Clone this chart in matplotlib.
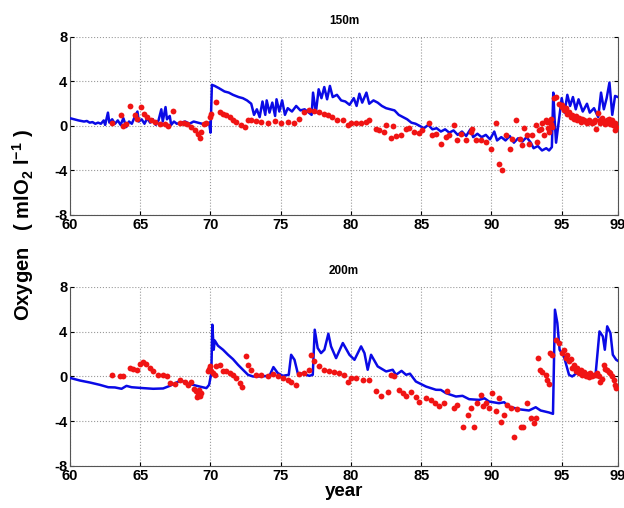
import matplotlib
matplotlib.use("Agg")
import matplotlib.pyplot as plt

plt.rcParams['font.family'] = ['Liberation Sans', 'DejaVu Sans']
plt.rcParams['font.weight'] = 'bold'
plt.rcParams['mathtext.fontset'] = 'custom'
plt.rcParams['mathtext.rm'] = 'Liberation Sans:bold'
plt.rcParams['mathtext.bf'] = 'Liberation Sans:bold'
plt.rcParams['mathtext.it'] = 'Liberation Sans:bold'
plt.rcParams['mathtext.default'] = 'bf'

# ---------------- 150 m : model (blue line) ----------------
model150_year = [60.0, 60.3, 60.6, 61.0, 61.2, 61.4, 61.6, 61.8, 62.0, 62.2, 62.4, 62.5, 62.7, 62.8, 63.0, 63.2,
                 63.4, 63.6, 63.8, 64.0, 64.2, 64.4, 64.6, 64.8, 64.9, 65.1, 65.3, 65.5, 65.7, 65.9,
                 66.1, 66.3, 66.5, 66.6, 66.8, 66.9, 67.1, 67.2, 67.4, 67.6, 67.9, 68.2, 68.5, 68.8,
                 69.1, 69.4, 69.7, 69.9, 70.0, 70.1, 70.3, 70.6, 71.0, 71.3, 71.6, 72.0, 72.3, 72.6,
                 72.9, 73.1, 73.3, 73.5, 73.7, 73.9, 74.0, 74.2, 74.4, 74.6, 74.7, 74.9, 75.1, 75.3,
                 75.5, 75.8, 76.1, 76.4, 76.7, 77.0, 77.2, 77.3, 77.5, 77.7, 77.9, 78.1, 78.3, 78.5,
                 78.7, 79.0, 79.3, 79.6, 79.9, 80.2, 80.4, 80.6, 80.8, 81.1, 81.3, 81.6, 81.9, 82.2,
                 82.5, 82.8, 83.1, 83.4, 83.7, 84.0, 84.3, 84.6, 84.9, 85.2, 85.5, 85.8, 86.1, 86.4,
                 86.7, 87.0, 87.3, 87.6, 87.9, 88.2, 88.5, 88.7, 89.0, 89.3, 89.6, 89.9, 90.2, 90.4,
                 90.7, 91.0, 91.3, 91.6, 91.9, 92.2, 92.5, 92.8, 93.0, 93.3, 93.6, 93.9, 94.1, 94.3,
                 94.4, 94.5, 94.6, 94.8, 95.0, 95.2, 95.4, 95.6, 95.8, 96.0, 96.2, 96.5, 96.8, 97.0,
                 97.3, 97.6, 97.8, 98.0, 98.2, 98.4, 98.6, 98.8, 99.0]
model150_val = [0.7, 0.6, 0.5, 0.4, 0.45, 0.3, 0.35, 0.2, 0.3, 0.2, 0.5, 0.1, 1.2, 0.3, 0.6, 0.2,
                0.5, 0.1, 0.7, -0.1, 0.4, 0.2, 0.8, 1.3, 0.4, 0.6, 0.2, 0.7, 0.3, 0.6,
                0.1, 0.5, 1.5, 0.4, 1.7, 0.6, 0.9, 0.1, 0.4, 0.2, 0.3, 0.4, 0.2, 0.4,
                0.3, 0.2, 0.1, 0.3, -0.6, 3.7, 3.6, 3.4, 3.1, 3.0, 2.8, 2.6, 2.5, 2.3,
                2.0, 1.0, 1.5, 0.8, 2.2, 1.0, 2.3, 1.2, 2.1, 0.9, 2.4, 1.3, 2.3, 1.0,
                1.6, 1.3, 1.8, 1.4, 1.5, 1.2, 1.0, 3.0, 1.2, 3.3, 2.5, 3.5, 2.4, 3.6,
                2.6, 2.8, 2.3, 2.2, 1.9, 2.5, 1.8, 2.9, 2.1, 3.0, 2.0, 2.3, 2.1, 1.8,
                1.6, 1.5, 1.4, 1.0, 0.8, 0.6, 0.3, 0.2, 0.0, -0.2, 0.1, -0.3, -0.2, -0.5,
                -0.3, -0.6, -0.4, -0.8, -0.5, -0.9, -0.3, -1.0, -0.7, -1.0, -0.8, -1.2, -0.5, -1.3,
                -1.0, -1.3, -0.9, -1.5, -1.1, -1.4, -1.0, -1.5, -2.0, -1.8, -2.2, -2.0, -2.2, -1.9,
                3.0, 0.5, -1.5, 0.5, 2.5, 1.2, 2.8, 1.8, 2.6, 1.5, 2.4, 1.3, 2.0, 1.2,
                1.6, 0.8, 3.0, 1.5, 2.5, 3.9, 1.0, 2.7, 2.6]

# ---------------- 150 m : observations (red dots) ----------------
obs150_year = [62.96, 63.62, 63.79, 64.02, 64.26, 64.62, 64.78, 65.04, 65.26, 65.49, 65.73, 66.08,
               66.39, 66.75, 66.98, 67.34, 67.81, 68.10, 68.33, 68.64, 68.88, 69.11, 69.23, 69.35,
               69.52, 69.70, 69.94, 70.06, 70.37, 70.65, 70.89, 71.13, 71.36, 71.60, 71.84, 72.19,
               72.43, 72.67, 72.90, 73.25, 73.60, 74.08, 74.56, 75.03, 75.50, 75.98, 76.33, 76.69,
               77.04, 77.40, 77.75, 78.11, 78.34, 78.65, 78.98, 79.41, 79.76, 80.00, 80.36, 80.71,
               81.07, 81.30, 81.78, 82.01, 82.37, 82.49, 82.84, 82.96, 83.20, 83.55, 83.90, 84.14,
               84.50, 84.85, 85.09, 85.56, 85.75, 86.04, 86.39, 86.75, 86.99, 87.35, 87.58, 87.82,
               88.17, 88.53, 88.65, 88.88, 89.24, 89.60, 89.95, 90.30, 90.54, 90.78, 91.01, 91.30,
               91.49, 91.77, 92.01, 92.15, 92.32, 92.55, 92.67, 92.91, 93.15, 93.26, 93.38, 93.62,
               93.74, 93.97, 94.09, 94.21, 94.33, 94.45, 94.61, 94.80, 94.99, 95.16, 95.40, 95.63,
               95.87, 96.10, 96.34, 96.58, 96.82, 97.05, 97.29, 97.45, 97.60, 97.76, 98.00, 98.24,
               98.47, 98.59, 98.71, 98.83,
               93.50, 93.85, 94.00, 94.25, 95.05, 95.30, 95.50, 95.75, 96.00, 96.25, 96.45, 96.70,
               96.95, 97.15, 97.40, 97.70, 97.90, 98.10, 98.35, 98.55, 98.65, 98.78, 98.90]
obs150_val = [0.3, 1.0, 0.0, 0.2, 1.76, 0.95, 0.6, 1.7, 1.1, 0.8, 0.5, 0.4,
              0.2, 0.15, 0.0, 1.35, 0.27, 0.27, 0.2, -0.1, -0.4, -0.75, -1.05, -0.5,
              0.2, 0.27, 0.8, 1.1, 2.2, 1.25, 1.1, 0.95, 0.8, 0.57, 0.36, 0.06,
              -0.1, 0.57, 0.5, 0.45, 0.36, 0.27, 0.45, 0.27, 0.36, 0.27, 0.65, 1.25,
              1.46, 1.34, 1.25, 1.1, 0.95, 0.8, 0.57, 0.5, 0.12, 0.3, 0.3, 0.3,
              0.36, 0.5, -0.24, -0.39, -0.54, 0.06, -1.07, -0.03, -0.93, -0.84, -0.24, -0.18,
              -0.54, -0.63, -0.39, 0.3, -0.84, -0.69, -1.64, -0.99, -0.84, 0.06, -1.28, -0.69,
              -1.28, -0.54, -0.24, -1.28, -1.22, -1.43, -2.03, 0.27, -3.46, -3.97, -0.84, -2.03,
              -1.13, 0.51, -1.13, -1.73, -0.18, -0.84, -1.58, -0.84, 0.06, -1.43, -0.39, 0.27,
              -0.84, 0.36, -0.54, 0.21, -0.09, 2.54, 2.6, 2.0, 1.7, 1.4, 1.1, 0.8,
              0.66, 0.5, 0.36, 0.5, 0.27, 0.45, 0.36, -0.24, 1.16, 0.5, 0.36, 0.5,
              0.21, 0.57, 0.06, -0.39,
              -0.3, 0.5, -0.2, 0.6, 1.9, 1.6, 1.3, 1.0, 0.9, 0.7, 0.6, 0.4,
              0.5, 0.3, 0.55, 0.3, 0.7, 0.2, 0.6, 0.4, 0.1, 0.3, -0.1]

# ---------------- 200 m : model (blue line) ----------------
model200_year = [60.07, 60.7, 61.42, 62.13, 62.72, 63.2, 63.67, 64.02, 64.38, 65.2, 65.92, 66.63,
                 67.1, 67.58, 67.93, 68.29, 68.76, 69.23, 69.71, 69.9, 70.06, 70.13, 70.23, 70.3,
                 70.53, 70.89, 71.25, 71.6, 71.96, 72.31, 72.67, 73.02, 73.49, 74.2, 74.48, 74.79,
                 75.15, 75.57, 75.74, 75.98, 76.21, 76.57, 77.04, 77.28, 77.42, 77.63, 77.87, 78.11,
                 78.39, 78.58, 78.94, 79.42, 79.89, 80.25, 80.72, 80.96, 81.19, 81.43, 81.9, 82.5,
                 82.97, 83.2, 83.6, 83.92, 84.2, 84.62, 85.34, 86.05, 86.4, 86.76, 87.47, 87.94, 88.41, 89.12, 89.5, 89.83,
                 90.54, 90.9, 91.25, 91.96, 92.67, 93.15, 93.5, 94.1, 94.38, 94.52, 94.69, 94.85, 95.16,
                 95.52, 95.75, 96.23, 96.93, 97.41, 97.69, 97.93, 98.07, 98.24, 98.47, 98.64, 98.88,
                 99.0]
model200_val = [-0.15, -0.36, -0.54, -0.75, -0.96, -0.98, -1.1, -0.84, -0.96, -1.04, -1.1, -1.07,
                -0.84, -0.54, -0.36, -0.6, -0.75, -0.9, -1.04, -0.75, 0.3, 4.63, 2.39, 3.22,
                2.75, 2.39, 1.94, 1.55, 1.04, 0.6, 0.15, 0.0, 0.0, 0.06, 0.84, 0.3,
                0.06, 0.15, 1.94, 1.49, 0.3, 0.24, 0.06, 0.15, 4.18, 2.54, 2.09, 2.39,
                3.82, 2.69, 1.64, 2.99, 1.94, 1.49, 2.69, 2.09, 0.6, 1.94, 0.9, 0.45,
                0.6, 0.15, 0.5, 0.15, 0.25, -0.45, -0.9, -1.19, -1.2, -1.49, -1.79, -1.73, -2.03, -2.09, -1.95, -2.24,
                -2.39, -2.3, -2.69, -2.93, -3.04, -2.75, -3.04, -3.22, -3.34, 5.97, 4.78, 2.39, 1.79,
                0.15, 0.0, 0.45, 0.0, 0.15, 4.03, 3.58, 2.39, 4.48, 3.88, 1.94, 1.49,
                1.4]

# ---------------- 200 m : observations (red dots) ----------------
obs200_year = [62.96, 63.55, 63.79, 64.26, 64.50, 64.74, 64.97, 65.21, 65.40, 65.68, 65.92, 66.27,
               66.63, 66.87, 67.10, 67.46, 67.81, 68.17, 68.40, 68.64, 68.83, 69.00, 69.11, 69.23,
               69.35, 69.82, 69.90, 69.99, 70.18, 70.42, 70.65, 70.89, 71.13, 71.36, 71.60, 71.84,
               72.07, 72.26, 72.55, 72.67, 72.90, 73.25, 73.61, 74.08, 74.44, 74.79, 75.15, 75.50,
               75.74, 76.10, 76.33, 76.69, 77.04, 77.16, 77.40, 77.75, 78.11, 78.46, 78.82, 79.17,
               79.53, 79.77, 80.00, 80.36, 80.84, 81.31, 81.78, 82.14, 82.61, 82.85, 83.09, 83.44,
               83.68, 83.92, 84.27, 84.63, 84.86, 85.34, 85.69, 86.00, 86.28, 86.64, 86.87, 87.35,
               87.58, 87.94, 88.30, 88.53, 88.77, 89.00, 89.24, 89.40, 89.60, 89.83, 90.07, 90.31,
               90.54, 90.66, 90.90, 91.14, 91.37, 91.61, 91.85, 92.08, 92.25, 92.56, 92.79, 93.03,
               93.20, 93.34, 93.43, 93.62, 93.86, 93.98, 94.10, 94.14, 94.28, 94.61, 94.80, 95.04,
               95.28, 95.52, 95.75, 95.99, 96.23, 96.46, 96.70, 96.93, 97.17, 97.41, 97.64, 97.76,
               98.00, 98.24, 98.47, 98.71, 98.83,
               69.05, 69.20, 70.05, 70.30, 95.15, 95.40, 95.65, 95.85, 96.10, 96.35, 96.60, 96.85,
               97.05, 97.30, 97.52, 97.85, 98.10, 98.35, 98.60, 98.90]
obs200_val = [0.09, 0.0, 0.0, 0.75, 0.66, 0.6, 1.13, 1.25, 1.13, 0.75, 0.45, 0.15,
              0.15, 0.06, -0.6, -0.66, -0.3, -0.45, -0.75, -0.45, -1.1, -1.34, -1.64, -1.73,
              -1.49, 0.45, 0.66, 0.9, 0.3, 0.9, 1.04, 0.45, 0.45, 0.3, 0.15, -0.15,
              -0.6, -0.9, 1.79, 1.04, 0.6, 0.15, 0.15, 0.0, 0.2, 0.06, -0.15, -0.3,
              -0.45, -0.75, 0.24, 0.3, 0.6, 1.94, 1.34, 0.9, 0.6, 0.45, 0.36, 0.3,
              0.15, -0.45, -0.15, -0.15, -0.3, -0.3, -1.34, -1.73, -1.43, 0.15, 0.06, -1.19,
              -1.49, -1.73, -1.43, -1.79, -2.24, -1.94, -2.09, -2.39, -2.63, -2.39, -1.34, -2.84,
              -2.54, -4.48, -3.43, -2.84, -4.48, -2.33, -1.64, -2.63, -2.39, -2.84, -1.49, -3.13,
              -1.94, -4.03, -3.43, -2.54, -2.84, -5.37, -2.93, -4.48, -4.54, -2.33, -3.73, -4.18,
              -3.73, 1.64, 0.6, 0.36, 0.15, -0.3, -0.66, 2.09, 1.94, 3.28, 2.99, 2.09,
              1.64, 1.34, 0.75, 0.45, 0.3, 0.15, 0.0, -0.06, 0.06, 0.15, 0.0, -0.45,
              1.04, 0.6, 0.3, -0.3, -0.75,
              -1.8, -1.2, 0.5, 0.1, 2.4, 1.9, 1.6, 1.0, 0.8, 0.6, 0.4, 0.2,
              0.3, 0.1, 0.35, -0.2, 0.7, 0.4, 0.0, -1.0]

titles = ['150m', '200m']
x_ticks = [60, 65, 70, 75, 80, 85, 90, 95, 99]
y_ticks = [-8, -4, 0, 4, 8]

fig = plt.figure(figsize=(6.24, 5.08), dpi=100)
ax1 = fig.add_axes([0.1122, 0.5768, 0.878, 0.3504])
ax2 = fig.add_axes([0.1122, 0.0827, 0.878, 0.3524])

panels = [(ax1, model150_year, model150_val, obs150_year, obs150_val, titles[0]),
          (ax2, model200_year, model200_val, obs200_year, obs200_val, titles[1])]

for ax, my, mv, oy, ov, title in panels:
    ax.plot(my, mv, color='#0a0ae6', lw=1.8, zorder=3)
    ax.plot(oy, ov, 'o', color='#f01414', ms=4.2, mec='none', zorder=4)
    ax.set_xlim(60, 99)
    ax.set_ylim(-8, 8)
    ax.set_xticks(x_ticks)
    ax.set_yticks(y_ticks)
    ax.set_xticklabels([str(t) for t in x_ticks], fontsize=10.5, fontweight='bold')
    ax.set_yticklabels([str(t) for t in y_ticks], fontsize=10.5, fontweight='bold')
    ax.grid(True, linestyle=':', color='#9a9a9a', lw=0.8)
    ax.tick_params(direction='in', length=3, right=True, top=False, pad=2, width=0.8)
    ax.spines['top'].set_visible(False)
    for s in ['left', 'right', 'bottom']:
        ax.spines[s].set_color('#555555')
        ax.spines[s].set_linewidth(0.8)
    ax.set_title(title, fontsize=8.5, fontweight='bold', pad=9)

ax2.set_xlabel('year', fontsize=13.5, fontweight='bold', labelpad=0)
fig.text(0.037, 0.557, 'Oxygen   ( mlO$_2$ l$^{-1}$ )', rotation=90, ha='center', va='center',
         fontsize=14.5, fontweight='bold')

fig.savefig('out.png', dpi=100)
